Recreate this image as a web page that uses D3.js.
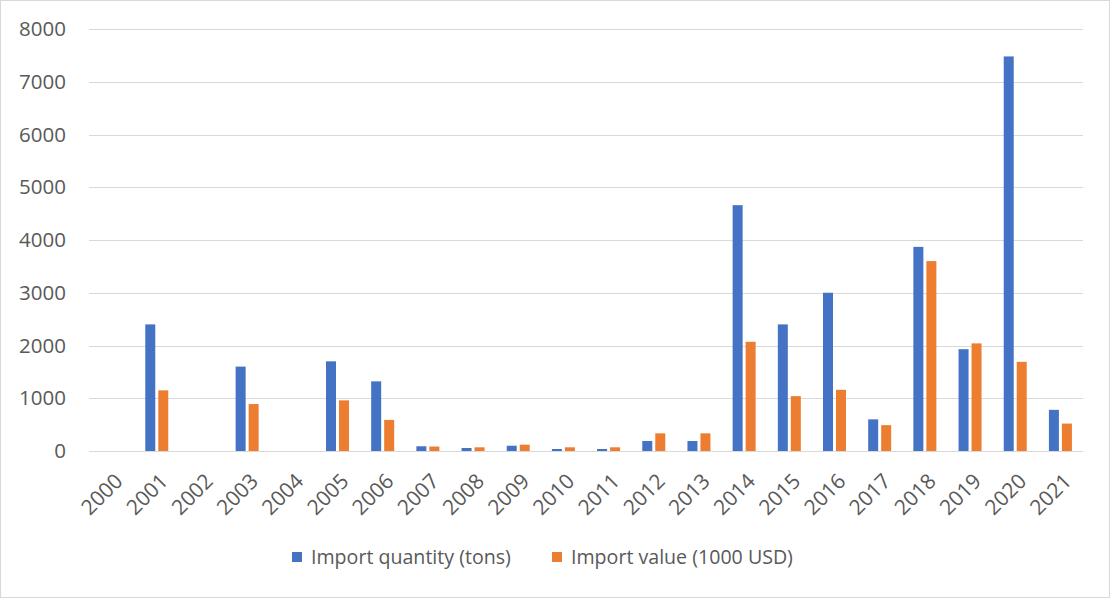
<!DOCTYPE html>
<html>
<head>
<meta charset="utf-8">
<script src="https://cdn.jsdelivr.net/npm/d3@7.9.0/dist/d3.min.js"></script>
<style>
  html, body { margin: 0; padding: 0; background: #fff; }
  svg text { font-family: "Open Sans", "Noto Sans", sans-serif; fill: #595959; }
</style>
</head>
<body>
<svg id="chart" width="1111" height="600"></svg>
<script>
// --- data
const years = ['2000','2001','2002','2003','2004','2005','2006','2007','2008','2009','2010',
               '2011','2012','2013','2014','2015','2016','2017','2018','2019','2020','2021'];
const quantity = [0, 2400, 0, 1600, 0, 1700, 1320, 90, 57, 100, 38,
                  38, 190, 190, 4660, 2400, 3000, 600, 3870, 1930, 7480, 780];
const value = [0, 1150, 0, 890, 0, 960, 590, 85, 70, 120, 70,
               70, 335, 335, 2070, 1040, 1160, 490, 3600, 2040, 1690, 520];
const yTicks = [0, 1000, 2000, 3000, 4000, 5000, 6000, 7000, 8000];
const seriesNames = ['Import quantity (tons)', 'Import value (1000 USD)'];
const seriesColors = ['#4472c4', '#ed7d31'];

const svg = d3.select('#chart');

// chart border
svg.append('rect')
  .attr('x', 0.5).attr('y', 0.5).attr('width', 1109).attr('height', 597)
  .attr('fill', '#fff').attr('stroke', '#d9d9d9');

const plot = { left: 89, right: 1083, top: 29, bottom: 451 };

const x = d3.scaleBand().domain(years).range([plot.left, plot.right]);
const y = d3.scaleLinear().domain([0, 8000]).range([plot.bottom, plot.top]);

// gridlines
svg.append('g')
  .selectAll('line')
  .data(yTicks)
  .join('line')
  .attr('x1', plot.left).attr('x2', plot.right)
  .attr('y1', d => Math.round(y(d)) + 0.5).attr('y2', d => Math.round(y(d)) + 0.5)
  .attr('stroke', '#d9d9d9').attr('stroke-width', 1.2);

// y labels
svg.append('g')
  .selectAll('text')
  .data(yTicks)
  .join('text')
  .attr('x', 66).attr('y', d => y(d))
  .attr('dy', '0.35em')
  .attr('text-anchor', 'end')
  .style('font-size', '20.5px')
  .text(d => d);

// bars
const barW = 10, gap = 3;
const series = [quantity, value];
series.forEach((vals, s) => {
  svg.append('g')
    .selectAll('rect')
    .data(years.map((yr, i) => ({ yr, v: vals[i] })).filter(d => d.v > 0))
    .join('rect')
    .attr('x', d => x(d.yr) + x.bandwidth() / 2 + (s === 0 ? -(barW + gap / 2) : gap / 2))
    .attr('width', barW)
    .attr('y', d => y(d.v))
    .attr('height', d => y(0) - y(d.v))
    .attr('fill', seriesColors[s]);
});

// x labels
svg.append('g')
  .selectAll('text')
  .data(years)
  .join('text')
  .attr('transform', d => `translate(${x(d) + x.bandwidth() / 2 + 2},${plot.bottom + 21}) rotate(-45)`)
  .attr('text-anchor', 'end')
  .attr('dy', '0.7em')
  .style('font-size', '21px')
  .text(d => d);

// legend
const legendItems = [{ x: 292, i: 0 }, { x: 552, i: 1 }];
const lg = svg.append('g').selectAll('g').data(legendItems).join('g')
  .attr('transform', d => `translate(${d.x},557)`);
lg.append('rect')
  .attr('x', 0).attr('y', -5).attr('width', 10).attr('height', 10)
  .attr('fill', d => seriesColors[d.i]);
lg.append('text')
  .attr('x', 19).attr('y', 0).attr('dy', '0.35em')
  .style('font-size', '19.6px')
  .text(d => seriesNames[d.i]);
</script>
</body>
</html>
